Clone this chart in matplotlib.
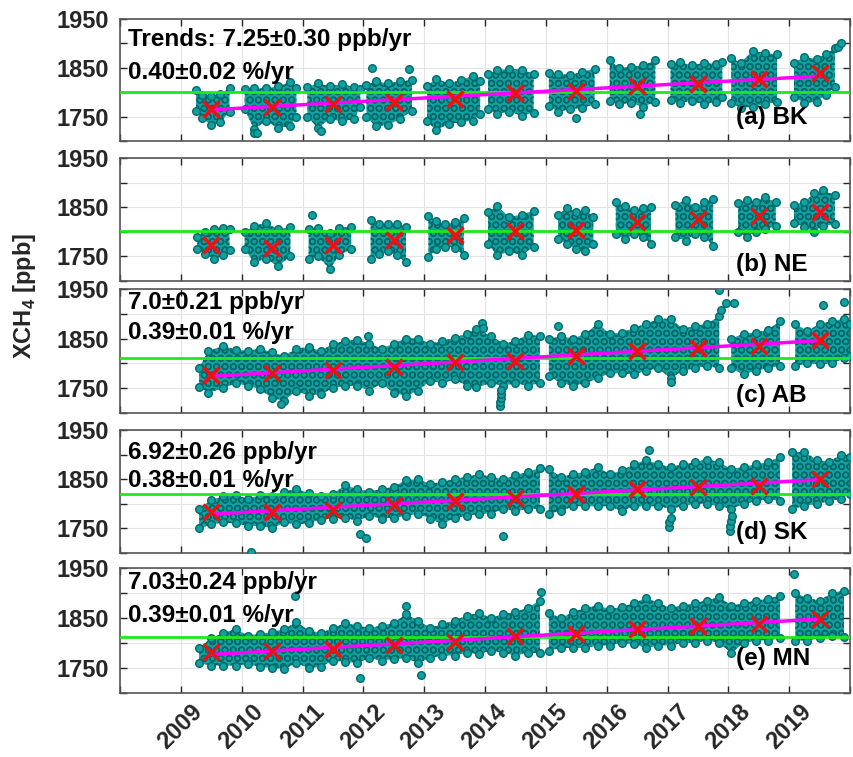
import numpy as np
import matplotlib.pyplot as plt
import matplotlib.transforms as mtransforms

plt.rcParams['font.family'] = ['Liberation Sans', 'DejaVu Sans']
plt.rcParams['font.weight'] = 'bold'
plt.rcParams['mathtext.fontset'] = 'custom'
plt.rcParams['mathtext.rm'] = 'Liberation Sans:bold'
plt.rcParams['mathtext.bf'] = 'Liberation Sans:bold'
plt.rcParams['hatch.linewidth'] = 1.0

nan = np.nan

# =========================
# Data
# =========================
mean_t = [2009.5, 2010.5, 2011.5, 2012.5, 2013.5, 2014.5, 2015.5, 2016.5, 2017.5, 2018.5, 2019.5]

# (a) BK - yearly clusters, envelope of the point cloud
bk_t = [2009.25, 2009.35, 2009.5, 2009.65, 2009.8, nan,
        2010.05, 2010.2, 2010.4, 2010.6, 2010.8, 2010.9, nan,
        2011.08, 2011.25, 2011.45, 2011.65, 2011.85, 2011.95, nan,
        2012.05, 2012.2, 2012.4, 2012.6, 2012.8, nan,
        2013.05, 2013.2, 2013.4, 2013.6, 2013.8, 2013.92, nan,
        2014.05, 2014.2, 2014.4, 2014.6, 2014.8, nan,
        2015.05, 2015.2, 2015.4, 2015.6, 2015.8, nan,
        2016.05, 2016.2, 2016.4, 2016.6, 2016.8, nan,
        2017.05, 2017.2, 2017.4, 2017.6, 2017.8, 2017.9, nan,
        2018.05, 2018.2, 2018.4, 2018.6, 2018.8, nan,
        2019.08, 2019.25, 2019.45, 2019.6, 2019.75]
bk_hi = [1805, 1795, 1792, 1796, 1809, nan,
         1806, 1808, 1808, 1812, 1821, 1808, nan,
         1810, 1818, 1812, 1817, 1810, 1806, nan,
         1815, 1822, 1818, 1822, 1825, nan,
         1812, 1828, 1818, 1825, 1833, 1822, nan,
         1838, 1845, 1848, 1846, 1838, nan,
         1840, 1838, 1835, 1842, 1848, nan,
         1866, 1850, 1852, 1855, 1865, nan,
         1858, 1862, 1855, 1860, 1858, 1862, nan,
         1870, 1860, 1885, 1880, 1878, nan,
         1860, 1872, 1868, 1878, 1890]
bk_lo = [1762, 1748, 1732, 1738, 1760, nan,
         1765, 1725, 1740, 1727, 1730, 1750, nan,
         1750, 1727, 1745, 1740, 1745, 1770, nan,
         1750, 1730, 1733, 1745, 1762, nan,
         1740, 1722, 1735, 1738, 1742, 1755, nan,
         1765, 1755, 1760, 1752, 1758, nan,
         1772, 1760, 1765, 1768, 1775, nan,
         1782, 1775, 1778, 1770, 1780, nan,
         1785, 1778, 1782, 1775, 1780, 1790, nan,
         1778, 1768, 1770, 1775, 1780, nan,
         1790, 1778, 1780, 1795, 1810]
bk_out_t = [2010.2, 2010.25, 2011.3, 2012.15, 2012.75, 2015.5, 2016.55, 2019.8, 2019.86]
bk_out_v = [1716, 1716, 1720, 1849, 1848, 1748, 1755, 1893, 1900]
bk_mean = [1766, 1769, 1776, 1779, 1786, 1799, 1803, 1813, 1817, 1827, 1839]

# (b) NE
ne_t = [2009.27, 2009.4, 2009.55, 2009.7, 2009.8, nan,
        2010.05, 2010.2, 2010.4, 2010.6, 2010.8, nan,
        2011.1, 2011.25, 2011.45, 2011.6, 2011.8, nan,
        2012.12, 2012.25, 2012.4, 2012.55, 2012.7, nan,
        2013.07, 2013.2, 2013.35, 2013.5, 2013.65, nan,
        2014.05, 2014.2, 2014.4, 2014.6, 2014.8, nan,
        2015.2, 2015.35, 2015.5, 2015.65, 2015.78, nan,
        2016.15, 2016.3, 2016.45, 2016.6, 2016.73, nan,
        2017.13, 2017.3, 2017.45, 2017.6, 2017.75, nan,
        2018.16, 2018.3, 2018.45, 2018.6, 2018.78, nan,
        2019.08, 2019.25, 2019.4, 2019.55, 2019.75]
ne_hi = [1790, 1800, 1805, 1808, 1805, nan,
         1800, 1812, 1818, 1805, 1810, nan,
         1805, 1808, 1798, 1808, 1810, nan,
         1825, 1815, 1815, 1815, 1810, nan,
         1832, 1822, 1815, 1820, 1828, nan,
         1840, 1852, 1830, 1835, 1843, nan,
         1835, 1848, 1840, 1845, 1830, nan,
         1860, 1852, 1845, 1848, 1850, nan,
         1855, 1865, 1850, 1860, 1867, nan,
         1858, 1865, 1860, 1870, 1860, nan,
         1855, 1860, 1878, 1884, 1875]
ne_lo = [1765, 1755, 1745, 1752, 1762, nan,
         1765, 1738, 1745, 1730, 1750, nan,
         1745, 1750, 1725, 1752, 1765, nan,
         1745, 1755, 1760, 1752, 1738, nan,
         1748, 1765, 1770, 1768, 1752, nan,
         1775, 1752, 1760, 1752, 1770, nan,
         1785, 1775, 1765, 1760, 1775, nan,
         1795, 1785, 1795, 1790, 1775, nan,
         1790, 1782, 1795, 1790, 1772, nan,
         1800, 1790, 1800, 1805, 1812, nan,
         1818, 1810, 1800, 1812, 1815]
ne_out_t = [2011.15]
ne_out_v = [1834]
ne_mean = [1774, 1767, 1774, 1783, 1793, 1801, 1804, 1819, 1826, 1832, 1841]

# (c) AB
ab_t = [2009.3, 2009.45, 2009.7, 2009.9, 2010.1, 2010.3, 2010.5, 2010.7, 2010.9,
        2011.1, 2011.3, 2011.5, 2011.7, 2011.9, 2012.1, 2012.3, 2012.5, 2012.7, 2012.9,
        2013.1, 2013.3, 2013.5, 2013.7, 2013.85, 2014.1, 2014.3, 2014.5, 2014.7, 2014.9, nan,
        2015.05, 2015.25, 2015.45, 2015.65, 2015.85, 2016.05, 2016.25, 2016.45, 2016.65, 2016.85,
        2017.05, 2017.25, 2017.45, 2017.65, 2017.85, nan,
        2018.05, 2018.25, 2018.45, 2018.65, 2018.85, nan,
        2019.1, 2019.3, 2019.5, 2019.7, 2019.9, 2020.0]
ab_hi = [1790, 1825, 1835, 1828, 1825, 1830, 1822, 1815, 1830,
         1833, 1825, 1840, 1845, 1848, 1840, 1830, 1840, 1850, 1850,
         1840, 1845, 1852, 1860, 1870, 1855, 1840, 1845, 1858, 1855, nan,
         1850, 1855, 1850, 1860, 1880, 1860, 1862, 1872, 1880, 1890,
         1890, 1870, 1875, 1880, 1895, nan,
         1850, 1860, 1862, 1868, 1885, nan,
         1880, 1865, 1880, 1885, 1890, 1880]
ab_lo = [1752, 1741, 1750, 1760, 1755, 1748, 1730, 1725, 1745,
         1735, 1738, 1750, 1755, 1755, 1745, 1760, 1740, 1735, 1745,
         1765, 1760, 1768, 1755, 1752, 1760, 1755, 1760, 1755, 1760, nan,
         1775, 1760, 1755, 1760, 1770, 1780, 1780, 1778, 1785, 1790,
         1770, 1785, 1790, 1795, 1790, nan,
         1790, 1778, 1785, 1790, 1795, nan,
         1795, 1800, 1798, 1800, 1810, 1815]
ab_out_t = [2010.65, 2012.08, 2013.95, 2013.97, 2014.25, 2014.25, 2014.26, 2014.27, 2014.27,
            2015.2, 2017.05, 2017.85, 2017.88, 2017.96, 2018.09, 2019.55, 2019.9]
ab_out_v = [1718, 1856, 1882, 1872, 1715, 1723, 1731, 1739, 1747,
            1875, 1762, 1948, 1908, 1922, 1922, 1917, 1924]
ab_mean = [1776, 1781, 1786, 1793, 1802, 1805, 1814, 1824, 1831, 1835, 1847]

# (d) SK
sk_t = [2009.3, 2009.5, 2009.7, 2009.9, 2010.1, 2010.3, 2010.5, 2010.7, 2010.9,
        2011.1, 2011.3, 2011.5, 2011.7, 2011.9, 2012.1, 2012.3, 2012.5, 2012.7, 2012.9,
        2013.1, 2013.3, 2013.5, 2013.7, 2013.9, 2014.1, 2014.3, 2014.5, 2014.7, 2014.9, nan,
        2015.05, 2015.25, 2015.45, 2015.65, 2015.85, 2016.05, 2016.25, 2016.45, 2016.65, 2016.85,
        2017.05, 2017.25, 2017.45, 2017.65, 2017.85, 2018.05, 2018.25, 2018.45, 2018.65, 2018.85, nan,
        2019.05, 2019.25, 2019.45, 2019.65, 2019.85, 2020.0]
sk_hi = [1790, 1808, 1815, 1818, 1810, 1818, 1815, 1825, 1830,
         1822, 1815, 1820, 1838, 1830, 1825, 1830, 1835, 1848, 1850,
         1840, 1845, 1850, 1855, 1860, 1855, 1850, 1858, 1865, 1872, nan,
         1870, 1855, 1860, 1865, 1875, 1860, 1868, 1880, 1890, 1880,
         1875, 1880, 1885, 1890, 1885, 1870, 1875, 1880, 1885, 1895, nan,
         1905, 1905, 1890, 1885, 1900, 1895]
sk_lo = [1750, 1758, 1762, 1760, 1755, 1755, 1750, 1762, 1758,
         1760, 1768, 1770, 1772, 1765, 1775, 1770, 1772, 1775, 1780,
         1770, 1758, 1772, 1775, 1780, 1780, 1790, 1785, 1790, 1790, nan,
         1780, 1785, 1795, 1795, 1795, 1795, 1785, 1795, 1795, 1795,
         1790, 1795, 1800, 1800, 1795, 1790, 1800, 1805, 1810, 1805, nan,
         1790, 1795, 1800, 1805, 1810, 1820]
sk_out_t = [2010.15, 2011.95, 2012.05, 2014.3, 2016.7,
            2017.02, 2017.03, 2017.05, 2018.02, 2018.03, 2018.05, 2018.06]
sk_out_v = [1703, 1738, 1731, 1735, 1910,
            1752, 1762, 1772, 1745, 1755, 1765, 1775]
sk_mean = [1783, 1783, 1788, 1797, 1805, 1812, 1820, 1831, 1835, 1836, 1850]

# (e) MN
mn_t = [2009.3, 2009.5, 2009.7, 2009.9, 2010.1, 2010.3, 2010.5, 2010.7, 2010.9,
        2011.1, 2011.3, 2011.5, 2011.7, 2011.9, 2012.1, 2012.3, 2012.5, 2012.7, 2012.9,
        2013.1, 2013.3, 2013.5, 2013.7, 2013.9, 2014.1, 2014.3, 2014.5, 2014.7, 2014.9, nan,
        2015.05, 2015.25, 2015.45, 2015.65, 2015.85, 2016.05, 2016.25, 2016.45, 2016.65, 2016.85,
        2017.05, 2017.25, 2017.45, 2017.65, 2017.85, 2018.05, 2018.25, 2018.45, 2018.65, 2018.85, nan,
        2019.1, 2019.3, 2019.5, 2019.7, 2019.9]
mn_hi = [1790, 1810, 1820, 1828, 1815, 1818, 1822, 1828, 1842,
         1825, 1820, 1830, 1840, 1835, 1830, 1835, 1840, 1858, 1845,
         1830, 1838, 1845, 1855, 1860, 1850, 1858, 1862, 1870, 1885, nan,
         1860, 1850, 1862, 1870, 1875, 1868, 1872, 1880, 1890, 1880,
         1870, 1875, 1880, 1885, 1892, 1875, 1880, 1885, 1888, 1895, nan,
         1900, 1890, 1885, 1900, 1905]
mn_lo = [1760, 1755, 1755, 1755, 1758, 1752, 1750, 1748, 1760,
         1750, 1752, 1765, 1762, 1760, 1770, 1765, 1768, 1770, 1760,
         1770, 1775, 1775, 1780, 1778, 1785, 1780, 1775, 1780, 1780, nan,
         1785, 1790, 1790, 1790, 1795, 1795, 1800, 1798, 1790, 1795,
         1795, 1800, 1800, 1805, 1800, 1780, 1800, 1805, 1805, 1810, nan,
         1805, 1805, 1810, 1815, 1812]
mn_out_t = [2010.88, 2011.95, 2012.7, 2012.95, 2014.92, 2019.08]
mn_out_v = [1895, 1730, 1875, 1737, 1902, 1939]
mn_mean = [1782, 1784, 1789, 1796, 1802, 1814, 1818, 1829, 1834, 1839, 1849]

base_levels = [1800, 1802, 1810, 1819, 1813]
trend_start = [1764, None, 1774, 1779, 1777]   # value at 2009.5
trend_end = [1833, None, 1846, 1849, 1848]     # value at 2019.5
trend_text = [('Trends: 7.25\u00b10.30 ppb/yr', '0.40\u00b10.02 %/yr'),
              None,
              ('7.0\u00b10.21 ppb/yr', '0.39\u00b10.01 %/yr'),
              ('6.92\u00b10.26 ppb/yr', '0.38\u00b10.01 %/yr'),
              ('7.03\u00b10.24 ppb/yr', '0.39\u00b10.01 %/yr')]
text_y = [(1907, 1841), None, (1922, 1863), (1905, 1848), (1920, 1855)]
site_labels = ['(a) BK', '(b) NE', '(c) AB', '(d) SK', '(e) MN']
site_y = [1749, 1733, 1736, 1742, 1768]

years = list(range(2008, 2021))
year_labels = ['', '2009', '2010', '2011', '2012', '2013', '2014', '2015',
               '2016', '2017', '2018', '2019', '']
y_ticks = [1700, 1750, 1800, 1850, 1900, 1950]
y_labels = ['', '1750', '', '1850', '', '1950']

panels = [
    (bk_t, bk_hi, bk_lo, bk_out_t, bk_out_v, bk_mean),
    (ne_t, ne_hi, ne_lo, ne_out_t, ne_out_v, ne_mean),
    (ab_t, ab_hi, ab_lo, ab_out_t, ab_out_v, ab_mean),
    (sk_t, sk_hi, sk_lo, sk_out_t, sk_out_v, sk_mean),
    (mn_t, mn_hi, mn_lo, mn_out_t, mn_out_v, mn_mean),
]

# panel boxes in pixels (top, bottom)
W, H = 854, 757
boxes = [(19, 141), (158, 281), (289, 413), (430, 553), (568, 693)]
left_px, right_px = 120, 850

FACE = '#12a0a0'
EDGE = '#006a6a'
GRAY = '#262626'

fig = plt.figure(figsize=(W / 100, H / 100), dpi=100)

for i, (t, hi, lo, ot, ov, means) in enumerate(panels):
    top, bot = boxes[i]
    ax = fig.add_axes([left_px / W, 1 - bot / H, (right_px - left_px) / W, (bot - top) / H])

    t = np.array(t, dtype=float)
    hi = np.array(hi, dtype=float)
    lo = np.array(lo, dtype=float)
    # point cloud: envelope filled with a dotted texture
    ax.fill_between(t, lo, hi, facecolor=FACE, edgecolor=EDGE, hatch='OO',
                    lw=0, zorder=2)
    ok = ~np.isnan(t)
    ax.scatter(np.r_[t[ok], t[ok], ot], np.r_[hi[ok], lo[ok], ov], s=30,
               facecolor=FACE, edgecolor=EDGE, linewidth=1.0, zorder=3)

    ax.axhline(base_levels[i], color='#1ee81e', lw=2, zorder=4)
    if trend_start[i] is not None:
        ax.plot([mean_t[0], mean_t[-1]], [trend_start[i], trend_end[i]],
                color='#ff00ff', lw=2.5, zorder=5)
    ax.plot(mean_t, means, 'x', color='#ee1111', ms=11, mew=2.5, zorder=6)

    if trend_text[i] is not None:
        ax.text(2008.13, text_y[i][0], trend_text[i][0], fontsize=17.5,
                fontweight='bold', va='center', ha='left', zorder=7)
        ax.text(2008.13, text_y[i][1], trend_text[i][1], fontsize=17.5,
                fontweight='bold', va='center', ha='left', zorder=7)
    ax.text(2018.13, site_y[i], site_labels[i], fontsize=17.5,
            fontweight='bold', va='center', ha='left', zorder=7)

    ax.set_xlim(2008, 2020)
    ax.set_ylim(1700, 1950)
    ax.set_xticks(years)
    ax.set_yticks(y_ticks)
    ax.set_yticklabels(y_labels)
    ax.grid(True, color='#e3e3e3', lw=0.8, zorder=0)
    ax.set_axisbelow(True)
    ax.tick_params(direction='in', length=5, width=1, color=GRAY,
                   top=True, right=True, labelsize=17, labelcolor=GRAY, pad=8)
    for sp in ax.spines.values():
        sp.set_color('#555555')
        sp.set_linewidth(1.2)
    for lab in ax.get_yticklabels():
        lab.set_fontweight('bold')

    if i < 4:
        ax.set_xticklabels([])
    else:
        ax.set_xticklabels(year_labels, rotation=45, ha='right',
                           rotation_mode='anchor', fontweight='bold')
        ax.tick_params(axis='x', pad=5)
        offset = mtransforms.ScaledTranslation(10 / 100, 0, fig.dpi_scale_trans)
        for lab in ax.get_xticklabels():
            lab.set_transform(lab.get_transform() + offset)

fig.text(25 / W, 1 - 296 / H, r'XCH$_\mathbf{4}$ [ppb]', rotation=90,
         fontsize=17, fontweight='bold', ha='center', va='center', color=GRAY)

fig.savefig('out.png', dpi=100)
